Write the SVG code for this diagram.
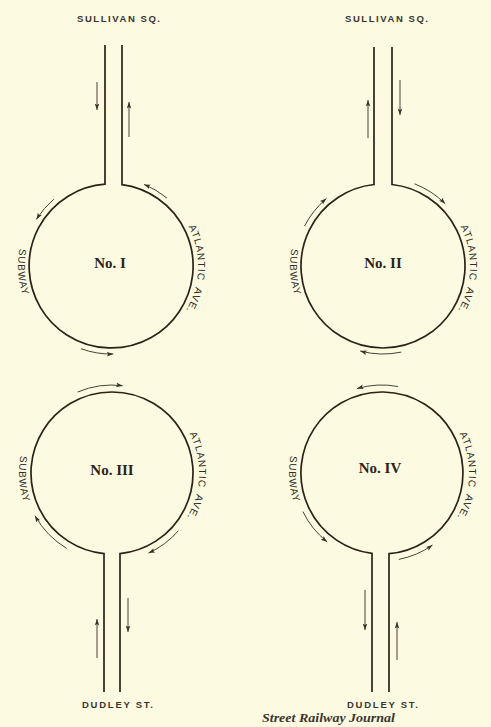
<svg xmlns="http://www.w3.org/2000/svg" xmlns:xlink="http://www.w3.org/1999/xlink" width="491" height="727" viewBox="0 0 491 727">
  <style>
    .track { fill: none; stroke: #2e2119; stroke-width: 1.7; }
    .arrow { fill: none; stroke: #4a4038; stroke-width: 1; marker-end: url(#head); }
    .label { font-family: "Liberation Sans", Arial, sans-serif; font-size: 9.5px; font-weight: bold; fill: #3a3530; text-anchor: middle; }
    .curved { font-family: "Liberation Sans", Arial, sans-serif; font-size: 10px; fill: #2e2a26; letter-spacing: 1px; word-spacing: 3px; }
    .num { font-family: "Liberation Serif", "Times New Roman", serif; font-size: 15px; font-weight: bold; fill: #2e2119; text-anchor: middle; }
    .credit { font-family: "Liberation Serif", "Times New Roman", serif; font-size: 12px; font-style: italic; font-weight: bold; fill: #3a3530; }
  </style>
  <defs>
    <marker id="head" markerUnits="userSpaceOnUse" markerWidth="8" markerHeight="6" refX="6.5" refY="2.5" orient="auto">
      <path d="M0,0.2 L6.5,2.5 L0,4.8 L1.4,2.5 z" fill="#3a3028"/>
    </marker>
    <!-- label paths, relative to each loop's centre -->
    <path id="subway-path" d="M-64.6,-66.9 A93,93 0 0 0 -54.7,75.2"/>
    <path id="atlantic-path" d="M58.2,-64.7 A87,87 0 0 1 53.6,68.6"/>
  </defs>

  <rect x="0" y="0" width="491" height="727" fill="#fcfbe1"/>

  <!-- Loop No. I -->
  <g id="loop-1">
    <text class="label" x="118.5" y="21.5" textLength="83" lengthAdjust="spacing">SULLIVAN SQ.</text>
    <path class="track" d="M105,45 V184.2 A82,82 0 1 0 122,184.7 V45"/>
    <text class="num" x="110" y="268">No. I</text>
    <g transform="translate(111,266)">
      <text class="curved"><textPath xlink:href="#subway-path" startOffset="50%" text-anchor="middle">SUBWAY</textPath></text>
      <text class="curved"><textPath xlink:href="#atlantic-path" startOffset="50%" text-anchor="middle">ATLANTIC AVE.</textPath></text>
    </g>
  </g>

  <!-- Loop No. II -->
  <g id="loop-2">
    <text class="label" x="386.5" y="21.5" textLength="83" lengthAdjust="spacing">SULLIVAN SQ.</text>
    <path class="track" d="M374,47 V184.5 A82,82 0 1 0 392,184.5 V47"/>
    <text class="num" x="383" y="268">No. II</text>
    <g transform="translate(383,266)">
      <text class="curved"><textPath xlink:href="#subway-path" startOffset="50%" text-anchor="middle">SUBWAY</textPath></text>
      <text class="curved"><textPath xlink:href="#atlantic-path" startOffset="50%" text-anchor="middle">ATLANTIC AVE.</textPath></text>
    </g>
  </g>

  <!-- Loop No. III -->
  <g id="loop-3">
    <path class="track" d="M104,692 V553.6 A81,81 0 1 1 120,553.6 V692"/>
    <text class="num" x="112" y="475">No. III</text>
    <g transform="translate(112,473)">
      <text class="curved"><textPath xlink:href="#subway-path" startOffset="50%" text-anchor="middle">SUBWAY</textPath></text>
      <text class="curved"><textPath xlink:href="#atlantic-path" startOffset="50%" text-anchor="middle">ATLANTIC AVE.</textPath></text>
    </g>
    <text class="label" x="117.5" y="708" textLength="71" lengthAdjust="spacing">DUDLEY ST.</text>
  </g>

  <!-- Loop No. IV -->
  <g id="loop-4">
    <path class="track" d="M372,692 V553.4 A81,81 0 1 1 389,553.7 V692"/>
    <text class="num" x="380" y="473">No. IV</text>
    <g transform="translate(382,473)">
      <text class="curved"><textPath xlink:href="#subway-path" startOffset="50%" text-anchor="middle">SUBWAY</textPath></text>
      <text class="curved"><textPath xlink:href="#atlantic-path" startOffset="50%" text-anchor="middle">ATLANTIC AVE.</textPath></text>
    </g>
    <text class="label" x="382.5" y="708" textLength="71" lengthAdjust="spacing">DUDLEY ST.</text>
  </g>

  <!-- direction-of-travel arrows -->
  <g id="arrows">
    <!-- No. I -->
    <path class="arrow" d="M97,82 V110"/>
    <path class="arrow" d="M129,137 V102"/>
    <path class="arrow" d="M53.9,199.1 A88,88 0 0 0 36.4,219.4"/>
    <path class="arrow" d="M167,198.1 A88,88 0 0 0 144,184.4"/>
    <path class="arrow" d="M80.9,348.7 A88,88 0 0 0 113.3,354"/>
    <!-- No. II -->
    <path class="arrow" d="M368,138 V100"/>
    <path class="arrow" d="M400,80 V115"/>
    <path class="arrow" d="M304.6,226 A88,88 0 0 1 326.4,198.6"/>
    <path class="arrow" d="M414.5,183.8 A88,88 0 0 1 445.2,203.8"/>
    <path class="arrow" d="M401.3,352.1 A88,88 0 0 1 360.2,351"/>
    <!-- No. III -->
    <path class="arrow" d="M77.6,392 A88,88 0 0 1 122.7,385.7"/>
    <path class="arrow" d="M66.7,548.4 A88,88 0 0 1 35,515.7"/>
    <path class="arrow" d="M178.4,530.7 A88,88 0 0 1 148.5,553.1"/>
    <path class="arrow" d="M97,658 V619"/>
    <path class="arrow" d="M128,598 V632"/>
    <!-- No. IV -->
    <path class="arrow" d="M398,386.5 A88,88 0 0 0 357,388.6"/>
    <path class="arrow" d="M302.9,511.6 A88,88 0 0 0 327.2,541.9"/>
    <path class="arrow" d="M398.8,559.4 A88,88 0 0 0 432.5,545.1"/>
    <path class="arrow" d="M365,590 V630"/>
    <path class="arrow" d="M397,660 V622"/>
  </g>

  <text class="credit" x="262" y="722" textLength="133" lengthAdjust="spacingAndGlyphs">Street Railway Journal</text>
</svg>
